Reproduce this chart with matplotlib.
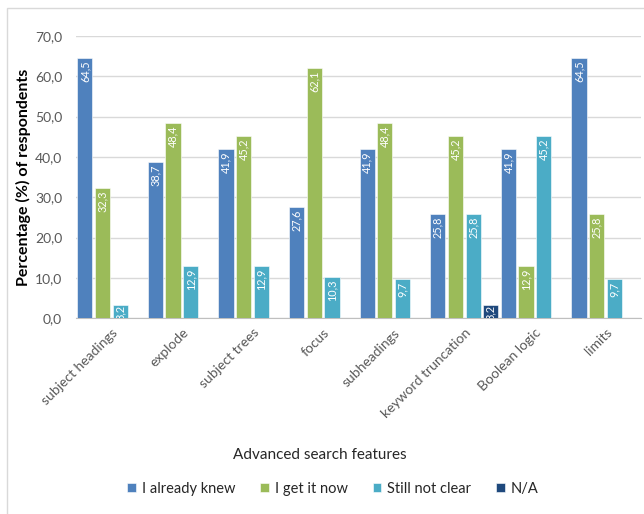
import numpy as np
import matplotlib.pyplot as plt
from matplotlib.patches import Rectangle

# data
categories = ["subject headings", "explode", "subject trees", "focus",
              "subheadings", "keyword truncation", "Boolean logic", "limits"]
series_names = ["I already knew", "I get it now", "Still not clear", "N/A"]
already_knew = [64.5, 38.7, 41.9, 27.6, 41.9, 25.8, 41.9, 64.5]
get_it_now = [32.3, 48.4, 45.2, 62.1, 48.4, 45.2, 12.9, 25.8]
not_clear = [3.2, 12.9, 12.9, 10.3, 9.7, 25.8, 45.2, 9.7]
not_applicable = [0, 0, 0, 0, 0, 3.2, 0, 0]

colors = ["#4F81BD", "#9BBB59", "#4BACC6", "#1F497D"]
plt.rcParams['font.family'] = ['Lato', 'DejaVu Sans']

fig = plt.figure(figsize=(6.44, 5.14), dpi=100)
ax = fig.add_axes([0.118, 0.381, 0.877, 0.549])

# light chart border (left and top visible)
fig.patches.append(Rectangle((7 / 644, -0.1), 1.2, 1 - 8 / 514 + 0.1,
                             transform=fig.transFigure, fill=False,
                             edgecolor="#D9D9D9", lw=1))

x = np.arange(len(categories))
pitch = 0.25
width = 0.215
all_series = [already_knew, get_it_now, not_clear, not_applicable]
for i, (vals, name) in enumerate(zip(all_series, series_names)):
    pos = x + (i - 1.5) * pitch
    bars = ax.bar(pos, vals, width, color=colors[i], label=name,
                  edgecolor="white", linewidth=0.4, zorder=3)
    for b, v in zip(bars, vals):
        if v <= 0:
            continue
        top = v - 0.6 if v > 5 else v + 0.2
        ax.text(b.get_x() + b.get_width() / 2, top,
                f"{v:.1f}".replace(".", ","), rotation=90,
                ha="center", va="top", color="white", fontsize=7.8,
                zorder=4, clip_on=True)

ax.set_xlim(-0.5, len(categories) - 0.5)
ax.set_ylim(0, 70)
ax.set_yticks(np.arange(0, 71, 10))
ax.set_yticklabels([f"{t:.1f}".replace(".", ",") for t in np.arange(0, 71, 10)])
ax.yaxis.grid(True, color="#D9D9D9", lw=1, zorder=0)
ax.set_axisbelow(True)
for s in ["top", "right", "left"]:
    ax.spines[s].set_visible(False)
ax.spines["bottom"].set_color("#BFBFBF")
ax.tick_params(length=0, colors="#595959", labelsize=10)
ax.tick_params(axis="y", pad=10)

ax.set_xticks(x)
ax.set_xticklabels(categories, rotation=45, ha="right",
                   rotation_mode="anchor")
ax.tick_params(axis="x", pad=6)

ax.set_ylabel("Percentage (%) of respondents", fontsize=11.5,
              fontweight="bold", color="black", labelpad=3)
fig.text(0.497, 0.114, "Advanced search features", ha="center",
         va="center", fontsize=11, color="#262626")

ax.legend(loc="center", bbox_to_anchor=(0.517, 0.049),
          bbox_transform=fig.transFigure, ncol=4, frameon=False,
          fontsize=10.5, handlelength=0.6, handleheight=0.6,
          handletextpad=0.4, columnspacing=1.7, labelcolor="#262626")

fig.savefig("out.png", dpi=100)
